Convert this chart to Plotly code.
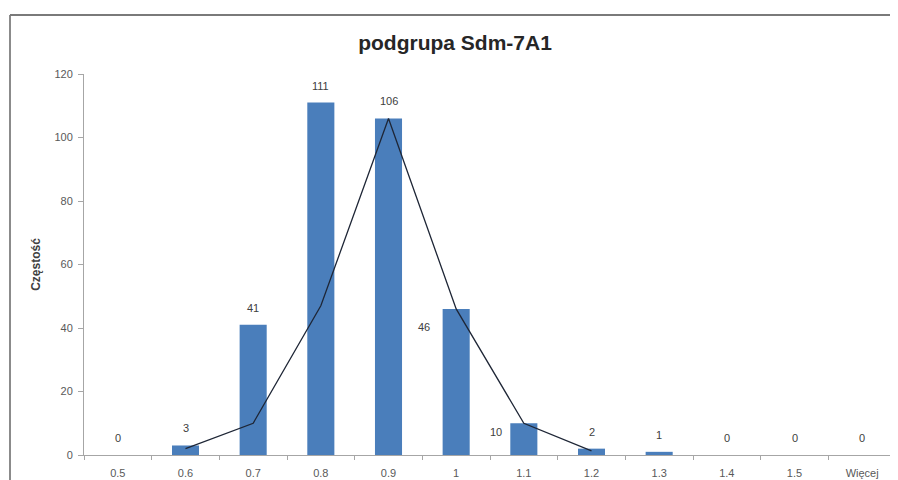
import plotly.graph_objects as go

# dane histogramu
bins = ["0.5", "0.6", "0.7", "0.8", "0.9", "1", "1.1", "1.2", "1.3", "1.4", "1.5", "Więcej"]
counts = [0, 3, 41, 111, 106, 46, 10, 2, 1, 0, 0, 0]
# linia (rozkład dopasowany)
line_bins = ["0.6", "0.7", "0.8", "0.9", "1", "1.1", "1.2"]
line_vals = [2, 10, 47, 106, 46, 10, 1.3]

title = "podgrupa Sdm-7A1"
y_title = "Częstość"

W, H = 898, 480
OFF = 8  # margines strony w przeglądarce - wszystko przesunięte o 8 px
L, R, T, B = 84 - OFF, 2 + OFF, 74 - OFF, 25 + OFF
FONT = "Liberation Sans, Arial, sans-serif"

fig = go.Figure()
fig.add_trace(go.Bar(x=bins, y=counts, marker_color="#4a7ebb",
                     marker_line_width=0, width=0.4, hoverinfo="x+y"))
fig.add_trace(go.Scatter(x=line_bins, y=line_vals, mode="lines",
                         line=dict(color="#1e2636", width=1.3), hoverinfo="skip"))

# etykiety danych (Excel przesunął dwie z nich w lewo)
shifts = {5: (-32, -18), 6: (-28, -9)}
for i, c in enumerate(counts):
    dx, dy = shifts.get(i, (0, 17))
    # na osi kategorii adnotacje liczone są po indeksie kategorii
    fig.add_annotation(x=i, y=c, text=str(c), showarrow=False,
                       xshift=dx, yshift=dy, yanchor="middle",
                       font=dict(size=11, color="#404040", family=FONT))

# ramka obszaru wykresu
pw, ph = W - L - R, H - T - B
fx = (10 - OFF - L) / pw
fy = (H - B - (15 - OFF)) / ph
fig.add_shape(type="line", xref="paper", yref="paper", x0=fx, x1=fx, y0=fy, y1=-0.3,
              line=dict(color="#6e6e6e", width=1.6))
fig.add_shape(type="line", xref="paper", yref="paper", x0=fx, x1=1.1, y0=fy, y1=fy,
              line=dict(color="#7a7a7a", width=2))

fig.update_layout(
    width=W, height=H,
    margin=dict(l=L, r=R, t=T, b=B),
    paper_bgcolor="white", plot_bgcolor="white",
    showlegend=False,
    font=dict(family=FONT, size=11, color="#595959"),
    title=dict(text="<b>" + title + "</b>", x=(455 - OFF) / W, xanchor="center",
               y=1 - (43 - OFF) / H, yref="container", yanchor="middle",
               font=dict(size=21, color="#262626", family=FONT)),
    bargap=0.6,
)
fig.update_xaxes(type="category", showgrid=False, zeroline=False, automargin=False,
                 showline=True, linecolor="#a6a6a6", linewidth=1,
                 ticks="outside", tickson="boundaries", ticklen=4, tickcolor="#a6a6a6",
                 ticklabelstandoff=8,
                 tickfont=dict(size=11, color="#595959"))
fig.update_yaxes(range=[0, 120], dtick=20, showgrid=False, zeroline=False, automargin=False,
                 showline=True, linecolor="#a6a6a6", linewidth=1,
                 ticks="outside", ticklen=5, tickcolor="#a6a6a6",
                 ticklabelstandoff=3,
                 tickfont=dict(size=11, color="#595959"),
                 title=dict(text="<b>" + y_title + "</b>", standoff=11,
                            font=dict(size=12, color="#404040")))

fig.write_html("out.html")
